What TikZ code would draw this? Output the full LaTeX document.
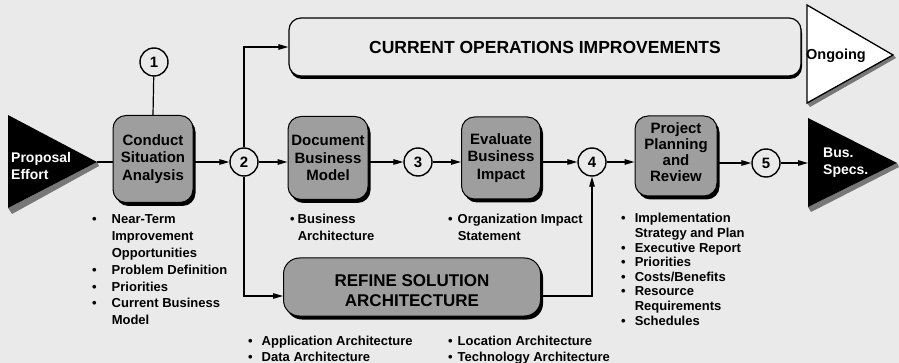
\documentclass[tikz,border=0pt]{standalone}
\usepackage{fontspec}
\setmainfont{Liberation Sans}
\usetikzlibrary{arrows.meta,calc,shadows}
\definecolor{bgc}{RGB}{234,234,234}
\definecolor{boxc}{RGB}{158,158,158}
\definecolor{shc}{RGB}{120,120,120}
\begin{document}
\begin{tikzpicture}[x=1pt,y=-1pt,
  proc/.style={draw=black, line width=1pt, fill=boxc, rounded corners=13pt,
    align=center, inner sep=0pt,
    font=\bfseries\fontsize{15}{17.5}\selectfont,
    drop shadow={shadow xshift=2.5pt, shadow yshift=-3.5pt, fill=black, opacity=1}},
  numc/.style={circle, draw=black, line width=1.4pt, fill=bgc, minimum size=28pt,
    inner sep=0pt, font=\bfseries\fontsize{15}{15}\selectfont},
  conn/.style={line width=1.2pt},
  arr/.style={conn, -{Triangle[length=10pt,width=5.5pt]}},
  lst/.style={inner sep=0pt, anchor=base west, font=\bfseries}
]
\useasboundingbox (0,0) rectangle (899,363);
\fill[bgc] (0,0) rectangle (899,363);

% ---- triangles ----
\fill[shc] (8,208) -- (97,162) -- (99,166) -- (12,214) -- cycle;
\fill[black] (8,115) -- (97,162) -- (8,208) -- cycle;
\coordinate (ptip) at (97,162);
\node[anchor=west, text=white, align=left, inner sep=0pt,
  font=\bfseries\fontsize{14}{17}\selectfont] (prop) at (11,166) {Proposal\\Effort};

\fill[shc] (807,103) -- (893,55) -- (896,58) -- (810,107) -- cycle;
\draw[fill=white, line width=1.3pt] (807,5) -- (893,55) -- (807,103) -- cycle;
\node[anchor=west, inner sep=0pt, font=\bfseries\fontsize{14.5}{14.5}\selectfont] (ong) at (806,56) {Ongoing};

\fill[shc] (808,207) -- (897,163) -- (899,167) -- (811,212) -- cycle;
\fill[black] (808,118) -- (897,163) -- (808,207) -- cycle;
\coordinate (bsl) at (808,163);
\node[anchor=west, text=white, align=left, inner sep=0pt,
  font=\bfseries\fontsize{14}{17}\selectfont] (bus) at (823,163) {Bus.\\Specs.};

% ---- boxes ----
\node[proc, minimum width=80pt, minimum height=87pt] (conduct) at (153,159) {Conduct\\Situation\\Analysis};
\node[proc, minimum width=80pt, minimum height=83pt] (document) at (328,158) {Document\\Business\\Model};
\node[proc, minimum width=79pt, minimum height=82pt] (evaluate) at (501,158) {Evaluate\\Business\\Impact};
\node[proc, minimum width=82pt, minimum height=80pt,
  label={[align=center, font=\bfseries\fontsize{15}{16}\selectfont, yshift=4pt]center:Project\\Planning\\and\\Review}] (project) at (676,156) {};
\node[proc, minimum width=257pt, minimum height=58pt, rounded corners=16pt,
  label={[align=center, font=\bfseries\fontsize{17}{20}\selectfont, yshift=-4pt]center:REFINE SOLUTION\\ARCHITECTURE}] (refine) at (412,287) {};
\node[draw=black, line width=1.2pt, fill=bgc, rounded corners=12pt, minimum width=512pt,
  minimum height=58pt, inner sep=0pt, font=\bfseries\fontsize{17.5}{17.5}\selectfont,
  drop shadow={shadow xshift=1pt, shadow yshift=-3pt, fill=black, opacity=1}] (cops) at (545,47) {CURRENT OPERATIONS IMPROVEMENTS};

% ---- numbered circles ----
\node[numc] (c1) at (154,62) {1};
\node[numc] (c2) at (244,162) {2};
\node[numc] (c3) at (418,162) {3};
\node[numc] (c4) at (592,162) {4};
\node[numc] (c5) at (766,163) {5};

% ---- connectors ----
\draw[conn] (ptip) -- (conduct.west |- ptip);
\draw[conn] (c1) -- (conduct.north);
\draw[arr] (conduct.east |- c2) -- (c2);
\draw[arr] (c2) -- (document.west |- c2);
\draw[arr] (document.east |- c3) -- (c3);
\draw[arr] (c3) -- (evaluate.west |- c3);
\draw[arr] (evaluate.east |- c4) -- (c4);
\draw[arr] (c4) -- (project.west |- c4);
\draw[arr] (project.east |- c5) -- (c5);
\draw[arr] (c5) -- (bsl);
\draw[arr] (c2) |- (cops.west);
\draw[arr] (c2) |- ($(refine.west)+(0,9)$);
\draw[arr] ($(refine.east)+(0,9)$) -| (c4);

% ---- lists ----
\node[lst] (l1) at (92,224) {\fontsize{13}{16.8}\selectfont\begin{tabular}[t]{@{}l@{\hspace{15pt}}l@{}}
\textbullet & Near-Term\\ & Improvement\\ & Opportunities\\
\textbullet & Problem Definition\\ \textbullet & Priorities\\
\textbullet & Current Business\\ & Model\end{tabular}};
\node[lst] (l2) at (290,224) {\fontsize{13}{16.5}\selectfont\begin{tabular}[t]{@{}l@{\hspace{3pt}}l@{}}
\textbullet & Business\\ & Architecture\end{tabular}};
\node[lst] (l3) at (448,224) {\fontsize{13}{16.5}\selectfont\begin{tabular}[t]{@{}l@{\hspace{5pt}}l@{}}
\textbullet & Organization Impact\\ & Statement\end{tabular}};
\node[lst] (l4) at (621,223) {\fontsize{13}{14.6}\selectfont\begin{tabular}[t]{@{}l@{\hspace{9pt}}l@{}}
\textbullet & Implementation\\ & Strategy and Plan\\
\textbullet & Executive Report\\ \textbullet & Priorities\\
\textbullet & Costs/Benefits\\ \textbullet & Resource\\ & Requirements\\
\textbullet & Schedules\end{tabular}};
\node[lst] (l5) at (248,345) {\fontsize{13}{16.5}\selectfont\begin{tabular}[t]{@{}l@{\hspace{9pt}}l@{}}
\textbullet & Application Architecture\\ \textbullet & Data Architecture\end{tabular}};
\node[lst] (l6) at (448,345) {\fontsize{13}{16.5}\selectfont\begin{tabular}[t]{@{}l@{\hspace{5pt}}l@{}}
\textbullet & Location Architecture\\ \textbullet & Technology Architecture\end{tabular}};
\end{tikzpicture}
\end{document}
